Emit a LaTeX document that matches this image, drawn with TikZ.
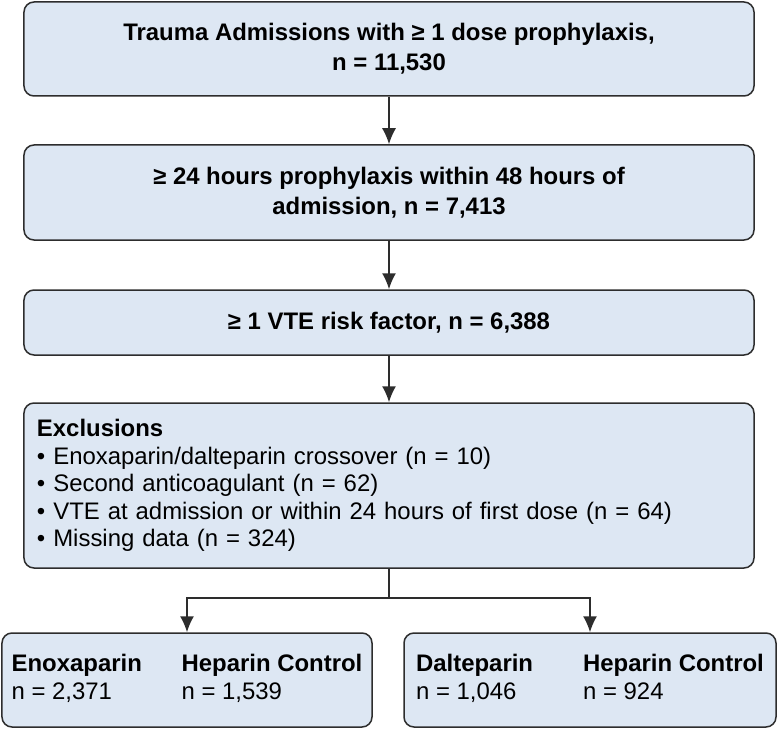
\documentclass[tikz,border=0pt]{standalone}
\usepackage{fontspec}
\setmainfont{Liberation Sans}
\usepackage{tikz}
\usetikzlibrary{arrows.meta}
\definecolor{boxblue}{RGB}{221,231,243}
\definecolor{edgegray}{RGB}{45,45,45}
\tikzset{flowbox/.style={draw=edgegray, fill=boxblue, line width=1.5bp, rounded corners=10bp, inner sep=0pt, align=center, font=\bfseries\fontsize{24}{30}\selectfont},
  flowarrow/.style={draw=edgegray, line width=1.5bp, -{Latex[length=16bp, width=14bp]}}}

\begin{document}
\begin{tikzpicture}[x=1bp, y=-1bp]
\useasboundingbox (0,0) rectangle (778,730);
\node[flowbox, minimum width=730bp, minimum height=94bp] (admit) at (389,49)
  {Trauma Admissions with ≥ 1 dose prophylaxis,\\ n = 11,530};
\node[flowbox, minimum width=730bp, minimum height=95bp] (window) at (389,192.5)
  {≥ 24 hours prophylaxis within 48 hours of\\ admission, n = 7,413};
\node[flowbox, minimum width=730bp, minimum height=65bp] (risk) at (389,322.5)
  {≥ 1 VTE risk factor, n = 6,388};
\node[flowbox, minimum width=730bp, minimum height=165bp, text width=704bp, align=left,
  font=\fontsize{24}{27.5}\selectfont] (excl) at (389,485.5)
  {\textbf{Exclusions}\\
   • Enoxaparin/dalteparin crossover (n = 10)\\
   • Second anticoagulant (n = 62)\\
   • VTE at admission or within 24 hours of first dose (n = 64)\\
   • Missing data (n = 324)\\[8bp]};
% study groups
\node[flowbox, minimum width=370bp, minimum height=94bp, font=\fontsize{24}{28}\selectfont] (enox) at (187,680)
  {\begin{tabular}{@{}p{170bp}@{}l@{}}
   \textbf{Enoxaparin} & \textbf{Heparin Control}\\
   n = 2,371 & n = 1,539
   \end{tabular}};
\node[flowbox, minimum width=372bp, minimum height=94bp, font=\fontsize{24}{28}\selectfont] (dalt) at (590,680)
  {\begin{tabular}{@{}p{167bp}@{}l@{}}
   \textbf{Dalteparin} & \textbf{Heparin Control}\\
   n = 1,046 & n = 924
   \end{tabular}};
\draw[flowarrow] (admit.south) -- (window.north);
\draw[flowarrow] (window.south) -- (risk.north);
\draw[flowarrow] (risk.south) -- (excl.north);
\draw[draw=edgegray, line width=1.5bp] (excl.south) -- ++(0,29) coordinate (split);
\draw[flowarrow] (split) -| (enox.north);
\draw[flowarrow] (split) -| (dalt.north);
\end{tikzpicture}
\end{document}
